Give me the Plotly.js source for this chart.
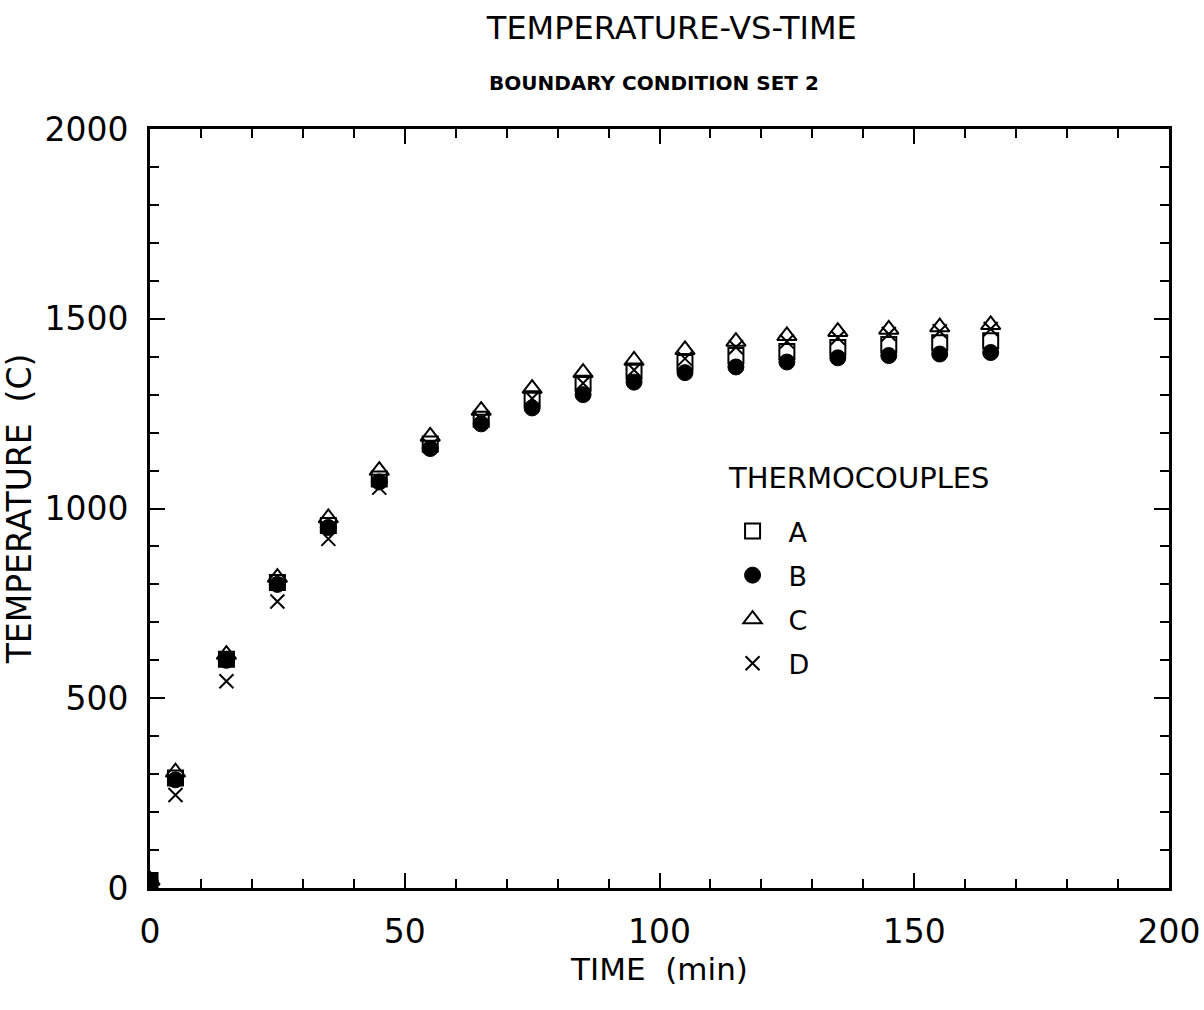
<!DOCTYPE html>
<html>
<head>
<meta charset="utf-8">
<script src="https://cdn.plot.ly/plotly-3.0.1.min.js"></script>
<style>
html,body{margin:0;padding:0;background:#fff;}
#chart{width:1204px;height:1010px;}
</style>
</head>
<body>
<div id="chart"></div>
<script>
// Time (min)
const timeMin = [0, 5, 15, 25, 35, 45, 55, 65, 75, 85, 95, 105, 115, 125, 135, 145, 155, 165];
// Thermocouple temperatures (C)
const tcA = [20, 290, 603, 805, 955, 1078, 1170, 1235, 1289, 1330, 1362, 1385, 1403, 1414, 1424, 1432, 1437, 1442];
const tcB = [20, 285, 600, 800, 950, 1070, 1158, 1223, 1265, 1300, 1333, 1358, 1373, 1386, 1397, 1403, 1407, 1411];
const tcC = [20, 305, 615, 818, 975, 1100, 1190, 1258, 1316, 1358, 1390, 1418, 1440, 1455, 1466, 1472, 1478, 1484];
const tcD = [20, 245, 545, 755, 920, 1055, 1165, 1235, 1290, 1330, 1365, 1395, 1425, 1440, 1450, 1460, 1467, 1473];
const seriesNames = ['A', 'B', 'C', 'D'];

const FONT = '"DejaVu Sans", "Liberation Sans", sans-serif';

const traces = [
  {x: timeMin, y: tcA, name: seriesNames[0], legendgroup: 'a', mode: 'markers', type: 'scatter',
   marker: {symbol: 'square-open', size: 15, color: '#000', line: {width: 2, color: '#000'}}},
  {x: timeMin, y: tcB, name: seriesNames[1], legendgroup: 'b', mode: 'markers', type: 'scatter',
   marker: {symbol: 'circle', size: 16, color: '#000', line: {width: 1, color: '#000'}}},
  {x: timeMin, y: tcC, name: seriesNames[2], legendgroup: 'c', mode: 'markers', type: 'scatter',
   marker: {symbol: 'triangle-up-open', size: 17, color: '#000', line: {width: 2, color: '#000'}}},
  {x: timeMin, y: tcD, name: seriesNames[3], legendgroup: 'd', mode: 'markers', type: 'scatter',
   marker: {symbol: 'x-thin-open', size: 14, color: '#000', line: {width: 2, color: '#000'}}}
];

const axisCommon = {
  showgrid: false, zeroline: false,
  showline: true, linecolor: '#000', linewidth: 3,
  mirror: 'ticks', ticks: 'inside', ticklen: 15, tickwidth: 2, tickcolor: '#000',
  tickfont: {family: FONT, size: 33, color: '#000'},
};

const layout = {
  width: 1204, height: 1010,
  paper_bgcolor: '#fff', plot_bgcolor: '#fff',
  margin: {l: 150, r: 35, t: 129, b: 122},
  showlegend: true,
  title: {text: 'TEMPERATURE-VS-TIME', x: 0.558, xanchor: 'center', y: 0.972, yanchor: 'middle',
          font: {family: FONT, size: 32, color: '#000'}},
  annotations: [
    {text: 'BOUNDARY CONDITION SET 2', xref: 'paper', yref: 'paper', x: 0.495, y: 1.0, yshift: 46,
     xanchor: 'center', yanchor: 'middle', showarrow: false,
     font: {family: FONT, size: 20, weight: 'bold', color: '#000'}},
    {text: 'THERMOCOUPLES', xref: 'paper', yref: 'paper', x: 0.565, y: 0.540,
     xanchor: 'left', yanchor: 'middle', showarrow: false,
     font: {family: FONT, size: 29, color: '#000'}}
  ],
  xaxis: Object.assign({}, axisCommon, {
    range: [0, 200], tick0: 0, dtick: 50, ticklabelstandoff: 12,
    minor: {dtick: 10, ticks: 'inside', ticklen: 9, tickwidth: 2, tickcolor: '#000'},
    title: {text: 'TIME  (min)', standoff: 4, font: {family: FONT, size: 31, color: '#000'}}
  }),
  yaxis: Object.assign({}, axisCommon, {
    range: [0, 2000], tick0: 0, dtick: 500, ticklabelstandoff: 12,
    minor: {dtick: 100, ticks: 'inside', ticklen: 9, tickwidth: 2, tickcolor: '#000'},
    title: {text: 'TEMPERATURE  (C)', standoff: 3, font: {family: FONT, size: 33, color: '#000'}}
  }),
  legend: {
    x: 0.556, y: 0.502, xanchor: 'left', yanchor: 'top',
    bgcolor: 'rgba(0,0,0,0)', borderwidth: 0,
    traceorder: 'grouped', tracegroupgap: 6,
    itemwidth: 62,
    font: {family: FONT, size: 27, color: '#000'}
  }
};

Plotly.newPlot('chart', traces, layout, {displayModeBar: false, staticPlot: true});
</script>
</body>
</html>
